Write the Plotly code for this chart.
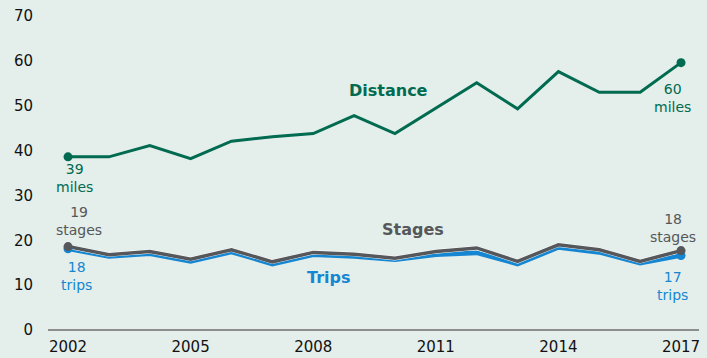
import plotly.graph_objects as go

years = list(range(2002, 2018))
distance = [38.6, 38.6, 41.1, 38.2, 42.1, 43.1, 43.8, 47.8, 43.8, 49.4, 55.1, 49.3, 57.6, 53.0, 53.0, 59.6]
stages = [18.6, 16.8, 17.5, 15.8, 17.9, 15.2, 17.3, 16.9, 16.0, 17.5, 18.3, 15.3, 19.0, 17.9, 15.3, 17.7]
trips = [18.1, 16.4, 17.0, 15.3, 17.4, 14.7, 16.8, 16.4, 15.7, 16.8, 17.2, 14.7, 18.4, 17.3, 14.9, 16.6]
x_ticks = [2002, 2005, 2008, 2011, 2014, 2017]
y_ticks = [0, 10, 20, 30, 40, 50, 60, 70]

GREEN = "#006b50"
GREY = "#55575a"
BLUE = "#1586d2"
BG = "#e4eeea"
FONT = "DejaVu Sans, Liberation Sans, Arial, sans-serif"

fig = go.Figure()

# trips underneath, stages on top with a thin white halo
fig.add_trace(go.Scatter(x=years, y=trips, mode="lines", line=dict(color=BLUE, width=4.6),
                         hoverinfo="skip", showlegend=False))
fig.add_trace(go.Scatter(x=years, y=stages, mode="lines", line=dict(color="white", width=4.3),
                         hoverinfo="skip", showlegend=False))
fig.add_trace(go.Scatter(x=years, y=stages, mode="lines", line=dict(color=GREY, width=3.5),
                         showlegend=False))
fig.add_trace(go.Scatter(x=years, y=distance, mode="lines", line=dict(color=GREEN, width=3),
                         showlegend=False))

# endpoint markers
for series, color in ((trips, BLUE), (stages, GREY), (distance, GREEN)):
    fig.add_trace(go.Scatter(x=[years[0], years[-1]], y=[series[0], series[-1]], mode="markers",
                             marker=dict(color=color, size=9), showlegend=False))

def note(x, y, text, color, size=14, bold=False):
    fig.add_annotation(x=x, y=y, xref="x", yref="y", text=f"<b>{text}</b>" if bold else text,
                       showarrow=False, font=dict(family=FONT, size=size, color=color),
                       align="center")

# series names
note(2009.83, 53.5, "Distance", GREEN, size=16, bold=True)
note(2010.44, 22.5, "Stages", GREY, size=16, bold=True)
note(2008.39, 11.6, "Trips", BLUE, size=16, bold=True)

# start and end values
note(years[0] + 0.17, distance[0] - 4.8, f"{round(distance[0])}<br>miles", GREEN)
note(years[0] + 0.27, stages[0] + 5.6, f"{round(stages[0])}<br>stages", GREY)
note(years[0] + 0.2, trips[0] - 6.0, f"{round(trips[0])}<br>trips", BLUE)
note(years[-1] - 0.2, distance[-1] - 7.8, f"{round(distance[-1])}<br>miles", GREEN)
note(years[-1] - 0.2, stages[-1] + 5.1, f"{round(stages[-1])}<br>stages", GREY)
note(years[-1] - 0.22, trips[-1] - 6.7, f"{round(trips[-1])}<br>trips", BLUE)

fig.update_layout(
    width=707, height=358,
    margin=dict(l=48, r=8, t=16, b=28),
    paper_bgcolor=BG, plot_bgcolor=BG,
    font=dict(family=FONT, size=15, color="#111111"),
    xaxis=dict(range=[2001.51, 2017.44], tickvals=x_ticks, ticktext=[str(v) for v in x_ticks],
               showgrid=False, zeroline=False, showline=False, ticks="", automargin=False,
               ticklabelstandoff=6, tickfont=dict(size=15, color="#111111"), fixedrange=True),
    yaxis=dict(range=[0, 70], tickvals=y_ticks, showgrid=False, zeroline=True,
               zerolinecolor="#8c8f8e", zerolinewidth=2, showline=False, ticks="", automargin=False,
               ticklabelstandoff=14, tickfont=dict(size=15, color="#111111"), fixedrange=True),
)

fig.write_html("out.html")
